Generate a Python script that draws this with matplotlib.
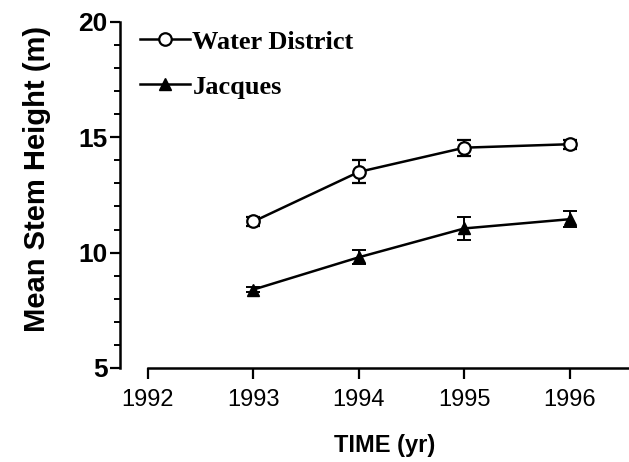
import matplotlib
matplotlib.use("Agg")
import matplotlib.pyplot as plt
from matplotlib.lines import Line2D
from matplotlib.ticker import MultipleLocator

years = [1993, 1994, 1995, 1996]
water_district = [11.35, 13.5, 14.55, 14.7]
water_district_err = [0.2, 0.5, 0.35, 0.2]
jacques = [8.4, 9.8, 11.05, 11.45]
jacques_err = [0.1, 0.3, 0.5, 0.35]

sans = ["Liberation Sans", "DejaVu Sans"]
serif = ["Liberation Serif", "DejaVu Serif"]

fig = plt.figure(figsize=(6.29, 4.62), dpi=100)
ax = fig.add_axes([0.1908, 0.2035, 0.8092, 0.749])

wd_style = dict(color="black", marker="o", markersize=9,
                markerfacecolor="white", markeredgewidth=1.6, linewidth=1.8)
jq_style = dict(color="black", marker="^", markersize=9,
                markerfacecolor="black", linewidth=1.8)

ax.errorbar(years, water_district, yerr=water_district_err, capsize=5,
            elinewidth=1.4, capthick=1.4, zorder=3, **wd_style)
ax.errorbar(years, jacques, yerr=jacques_err, capsize=5,
            elinewidth=1.4, capthick=1.4, zorder=3, **jq_style)

ax.set_xlim(1991.735, 1996.56)
ax.set_ylim(5, 20)

ax.spines["top"].set_visible(False)
ax.spines["right"].set_visible(False)
ax.spines["left"].set_linewidth(1.8)
ax.spines["bottom"].set_linewidth(1.8)
ax.spines["bottom"].set_bounds(1992, 1996.56)

ax.set_xticks([1992, 1993, 1994, 1995, 1996])
ax.yaxis.set_major_locator(MultipleLocator(5))
ax.yaxis.set_minor_locator(MultipleLocator(1))
ax.tick_params(axis="y", which="major", direction="out", length=7, width=1.6, pad=2)
ax.tick_params(axis="y", which="minor", direction="out", length=4, width=1.4)
ax.tick_params(axis="x", which="major", direction="out", length=8, width=1.6, pad=7)

for lbl in ax.get_xticklabels():
    lbl.set_fontfamily(sans)
    lbl.set_fontsize(17)
for lbl in ax.get_yticklabels():
    lbl.set_fontfamily(sans)
    lbl.set_fontsize(19)
    lbl.set_fontweight("bold")

ax.set_xlabel("TIME (yr)", family=sans, fontsize=17, fontweight="bold")
ax.xaxis.set_label_coords(0.52, -0.19)
ax.set_ylabel("Mean Stem Height (m)", family=sans, fontsize=21,
              fontweight="bold")
ax.yaxis.set_label_coords(-0.135, 0.545)

# legend handles without the error bar glyphs
handles = [Line2D([], [], **wd_style), Line2D([], [], **jq_style)]
ax.legend(handles, ["Water District", "Jacques"], loc="upper left",
          bbox_to_anchor=(-0.008, 1.045), frameon=False,
          prop={"family": serif, "weight": "bold", "size": 19},
          handlelength=1.9, handletextpad=0.1, labelspacing=0.82)

fig.savefig("out.png", dpi=100)
